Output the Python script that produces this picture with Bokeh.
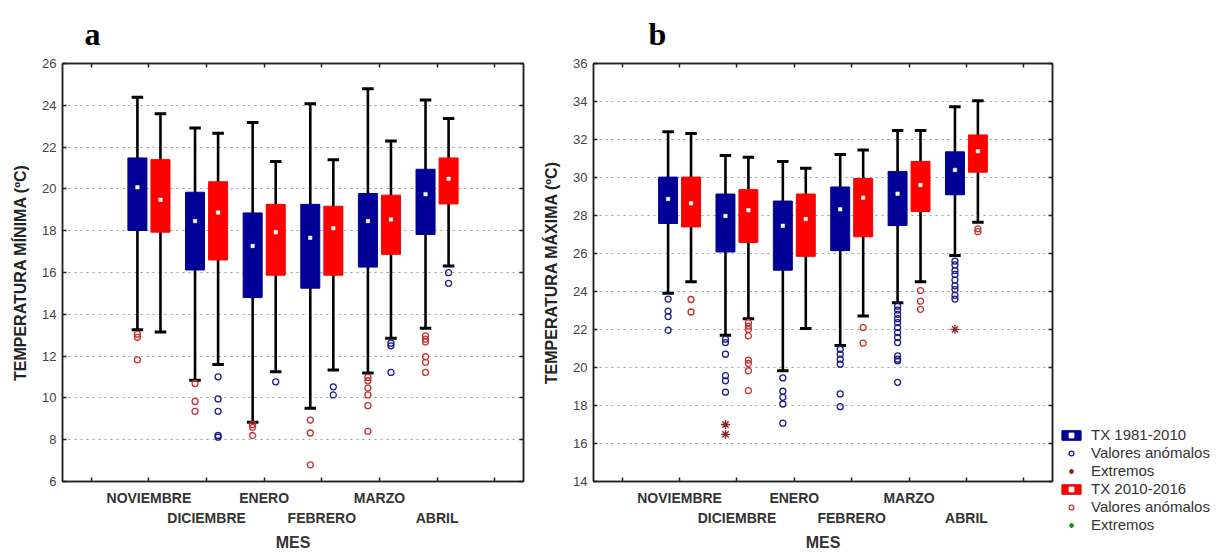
from bokeh.plotting import figure
from bokeh.models import (ColumnDataSource, FixedTicker, LinearAxis, Range1d,
                          Legend, LegendItem)
from bokeh.layouts import row, column
from bokeh.embed import file_html
from bokeh.resources import INLINE

MONTHS = ["NOVIEMBRE", "DICIEMBRE", "ENERO", "FEBRERO", "MARZO", "ABRIL"]
SERIES = ["TX 1981-2010", "TX 2010-2016"]
LEGEND_LABELS = ["Valores anómalos", "Extremos"]
X_TICKS = [0, 1, 2, 3, 4, 5, 6, 7]
A_Y_TICKS = [6, 8, 10, 12, 14, 16, 18, 20, 22, 24, 26]
B_Y_TICKS = [14, 16, 18, 20, 22, 24, 26, 28, 30, 32, 34, 36]

# ---- Panel a: Temperatura minima ----
A1_LOW = [13.26, 10.85, 8.83, 9.50, 11.19, 13.33]
A1_Q1 = [18.01, 16.12, 14.80, 15.25, 16.26, 17.82]
A1_MED = [20.08, 18.46, 17.27, 17.66, 18.46, 19.75]
A1_Q3 = [21.48, 19.84, 18.85, 19.26, 19.78, 20.94]
A1_HIGH = [24.39, 22.91, 23.18, 24.08, 24.79, 24.25]
A1_OUT = [[13.05, 12.90, 11.82], [10.69, 9.83, 9.36], [8.72, 8.59, 8.20],
          [8.94, 8.32, 6.80], [10.98, 10.82, 10.47, 10.14, 9.63, 8.40],
          [12.97, 12.81, 12.68, 11.97, 11.70, 11.22]]

A2_LOW = [13.15, 11.60, 11.25, 11.33, 12.86, 16.31]
A2_Q1 = [17.93, 16.60, 15.87, 15.87, 16.87, 19.28]
A2_MED = [19.48, 18.87, 17.93, 18.12, 18.54, 20.48]
A2_Q3 = [21.40, 20.34, 19.26, 19.17, 19.70, 21.48]
A2_HIGH = [23.60, 22.66, 21.31, 21.39, 22.29, 23.37]
A2_OUT = [[], [11.01, 9.95, 9.36, 8.20, 8.12], [10.77], [10.53, 10.14],
          [12.62, 12.49, 11.22], [15.99, 15.48]]

# ---- Panel b: Temperatura maxima ----
B1_LOW = [23.91, 21.70, 19.83, 21.16, 23.41, 25.90]
B1_Q1 = [27.58, 26.08, 25.12, 26.15, 27.47, 29.09]
B1_MED = [28.87, 27.98, 27.46, 28.33, 29.15, 30.40]
B1_Q3 = [30.02, 29.13, 28.76, 29.50, 30.32, 31.35]
B1_HIGH = [32.41, 31.16, 30.84, 31.21, 32.48, 33.72]
B1_OUT = [[23.60, 22.97, 22.68, 21.96],
          [21.49, 21.31, 20.70, 19.57, 19.30, 18.70],
          [19.45, 18.75, 18.43, 18.08, 17.07],
          [20.96, 20.70, 20.44, 20.17, 18.61, 17.94],
          [23.23, 23.02, 22.80, 22.57, 22.36, 22.10, 21.84, 21.58, 21.31,
           20.61, 20.44, 20.35, 19.22],
          [25.60, 25.40, 25.10, 24.90, 24.60, 24.30, 24.10, 23.80, 23.60]]
B1_EXT = [[], [17.00, 16.48], [], [], [], [22.01]]

B2_LOW = [24.51, 22.57, 22.05, 22.71, 24.51, 27.65]
B2_Q1 = [27.40, 26.58, 25.85, 26.88, 28.21, 30.28]
B2_MED = [28.64, 28.28, 27.81, 28.94, 29.60, 31.38]
B2_Q3 = [30.02, 29.36, 29.13, 29.95, 30.84, 32.24]
B2_HIGH = [32.32, 31.07, 30.49, 31.45, 32.48, 34.04]
B2_OUT = [[23.58, 22.92],
          [22.36, 22.18, 22.00, 21.66, 20.39, 20.21, 19.83, 18.78],
          [], [22.10, 21.28], [24.05, 23.49, 23.06], [27.30, 27.15]]
B2_EXT = [[], [], [], [], [], []]

BLUE = "#000096"
RED = "#FF0000"
OUT_BLUE = "#1C1C8C"
OUT_RED = "#C83232"
EXT_RED = "#8B2323"
EXT_GREEN = "#1E8C1E"
FONT = "Liberation Sans"
OFFSET = 0.2
BOX_W = 0.33
CAP = 0.1
NAN = float("nan")


def add_boxes(p, low, q1, med, q3, high, offset, color):
    xs = [i + 1 + offset for i in range(len(low))]
    src = ColumnDataSource(dict(
        x=xs, low=low, q1=q1, med=med, q3=q3, high=high,
        cl=[x - CAP for x in xs], cr=[x + CAP for x in xs]))
    p.segment(x0="x", y0="low", x1="x", y1="high", source=src,
              line_color="black", line_width=2.6)
    p.segment(x0="cl", y0="high", x1="cr", y1="high", source=src,
              line_color="black", line_width=3)
    p.segment(x0="cl", y0="low", x1="cr", y1="low", source=src,
              line_color="black", line_width=3)
    box = p.vbar(x="x", width=BOX_W, bottom="q1", top="q3", source=src,
                 fill_color=color, line_color=color, line_width=1)
    medr = p.scatter(x="x", y="med", source=src, marker="square", size=3.5,
                     fill_color="white", line_color="white", line_width=0.5)
    return box, medr


def add_points(p, lists, offset, marker, color, size):
    xs, ys = [], []
    for i, vals in enumerate(lists):
        for v in vals:
            xs.append(i + 1 + offset)
            ys.append(v)
    src = ColumnDataSource(dict(x=xs, y=ys))
    return p.scatter(x="x", y="y", source=src, marker=marker, size=size,
                     line_color=color, fill_color=None, line_width=1.3)


def mirror_axis(ticks):
    return LinearAxis(ticker=FixedTicker(ticks=ticks),
                      major_label_overrides={t: "" for t in ticks},
                      major_label_standoff=0,
                      major_tick_in=4, major_tick_out=0,
                      minor_tick_line_color=None, axis_line_color="#222222",
                      axis_line_width=1.5,
                      major_tick_line_color="#222222", major_tick_line_width=1.5)


def style(p, yticks, ylabel, letter, title_offset):
    p.outline_line_color = "#222222"
    p.outline_line_width = 1.5
    p.background_fill_color = "white"
    p.border_fill_color = "white"
    p.xgrid.grid_line_color = None
    p.ygrid.ticker = FixedTicker(ticks=yticks[1:-1])
    p.ygrid.grid_line_color = "#9A9A9A"
    p.ygrid.grid_line_dash = "dotted"
    p.ygrid.grid_line_width = 1

    xa = p.xaxis[0]
    xa.ticker = FixedTicker(ticks=X_TICKS)
    over = {0: "", 7: ""}
    for i, m in enumerate(MONTHS):
        over[i + 1] = m if i % 2 == 0 else "\n" + m
    xa.major_label_overrides = over
    xa.major_label_text_font = FONT
    xa.major_label_text_font_style = "bold"
    xa.major_label_text_font_size = "14px"
    xa.major_label_text_color = "#333333"
    xa.major_label_text_line_height = 1.3
    xa.major_label_standoff = 8
    xa.axis_label = "MES"
    xa.axis_label_text_font = FONT
    xa.axis_label_text_font_style = "bold"
    xa.axis_label_text_font_size = "16px"
    xa.axis_label_text_color = "#333333"
    xa.axis_label_standoff = 5

    ya = p.yaxis[0]
    ya.ticker = FixedTicker(ticks=yticks)
    ya.major_label_text_font = FONT
    ya.major_label_text_font_size = "13px"
    ya.major_label_text_color = "#444444"
    ya.major_label_standoff = 6
    ya.axis_label = ylabel
    ya.axis_label_text_font = FONT
    ya.axis_label_text_font_style = "bold"
    ya.axis_label_text_font_size = "16px"
    ya.axis_label_text_color = "#222222"
    ya.axis_label_standoff = 10

    for ax in (xa, ya):
        ax.major_tick_in = 4
        ax.major_tick_out = 0
        ax.minor_tick_line_color = None
        ax.axis_line_color = "#222222"
        ax.axis_line_width = 1.5
        ax.major_tick_line_color = "#222222"
        ax.major_tick_line_width = 1.5

    p.add_layout(mirror_axis(X_TICKS), "above")
    p.add_layout(mirror_axis(yticks), "right")

    p.title.text = letter
    p.title.text_font = "Liberation Serif"
    p.title.text_font_style = "bold"
    p.title.text_font_size = "32px"
    p.title.text_color = "black"
    p.title.align = "left"
    p.title.offset = title_offset
    p.title.standoff = 24


# ---- figure a ----
pa = figure(width=540, height=554, x_range=Range1d(-0.5, 7.5),
            y_range=Range1d(6, 26), output_backend="svg", toolbar_location=None,
            min_border_left=62, min_border_right=17, min_border_top=62,
            min_border_bottom=73)
add_boxes(pa, A1_LOW, A1_Q1, A1_MED, A1_Q3, A1_HIGH, -OFFSET, BLUE)
add_boxes(pa, A2_LOW, A2_Q1, A2_MED, A2_Q3, A2_HIGH, OFFSET, RED)
add_points(pa, A1_OUT, -OFFSET, "circle", OUT_RED, 6)
add_points(pa, A2_OUT, OFFSET, "circle", OUT_BLUE, 6)
style(pa, A_Y_TICKS, "TEMPERATURA MÍNIMA (ºC)", "a", 22)

# ---- figure b ----
pb = figure(width=521, height=554, x_range=Range1d(-0.5, 7.5),
            y_range=Range1d(14, 36), output_backend="svg", toolbar_location=None,
            min_border_left=50, min_border_right=9, min_border_top=63,
            min_border_bottom=73)
add_boxes(pb, B1_LOW, B1_Q1, B1_MED, B1_Q3, B1_HIGH, -OFFSET, BLUE)
add_boxes(pb, B2_LOW, B2_Q1, B2_MED, B2_Q3, B2_HIGH, OFFSET, RED)
add_points(pb, B1_OUT, -OFFSET, "circle", OUT_BLUE, 6)
add_points(pb, B1_EXT, -OFFSET, "asterisk", EXT_RED, 9)
add_points(pb, B2_OUT, OFFSET, "circle", OUT_RED, 6)
add_points(pb, B2_EXT, OFFSET, "asterisk", EXT_GREEN, 9)
style(pb, B_Y_TICKS, "TEMPERATURA MÁXIMA (ºC)", "b", 55)

# ---- legend panel (key glyphs mirror the styles used in panel b) ----
pl = figure(width=158, height=554, x_range=Range1d(0, 1), y_range=Range1d(0, 1),
            output_backend="svg", toolbar_location=None,
            x_axis_location=None, y_axis_location=None, min_border=0)
pl.grid.visible = False
pl.outline_line_color = None
key = ColumnDataSource(dict(x=[NAN], y=[NAN], b=[NAN], t=[NAN]))
k1_box = pl.vbar(x="x", bottom="b", top="t", width=0.1, source=key,
                 fill_color=BLUE, line_color=BLUE)
k1_med = pl.scatter(x="x", y="y", source=key, marker="square", size=3.5,
                    fill_color="white", line_color="white")
k1_out = pl.scatter(x="x", y="y", source=key, marker="circle", size=6,
                    fill_color=None, line_color=OUT_BLUE, line_width=1.3)
k1_ext = pl.scatter(x="x", y="y", source=key, marker="asterisk", size=10,
                    line_color=EXT_RED, line_width=1.3)
k2_box = pl.vbar(x="x", bottom="b", top="t", width=0.1, source=key,
                 fill_color=RED, line_color=RED)
k2_med = pl.scatter(x="x", y="y", source=key, marker="square", size=3.5,
                    fill_color="white", line_color="white")
k2_out = pl.scatter(x="x", y="y", source=key, marker="circle", size=6,
                    fill_color=None, line_color=OUT_RED, line_width=1.3)
k2_ext = pl.scatter(x="x", y="y", source=key, marker="asterisk", size=10,
                    line_color=EXT_GREEN, line_width=1.3)

legend = Legend(items=[
    LegendItem(label=SERIES[0], renderers=[k1_box, k1_med]),
    LegendItem(label=LEGEND_LABELS[0], renderers=[k1_out]),
    LegendItem(label=LEGEND_LABELS[1], renderers=[k1_ext]),
    LegendItem(label=SERIES[1], renderers=[k2_box, k2_med]),
    LegendItem(label=LEGEND_LABELS[0], renderers=[k2_out]),
    LegendItem(label=LEGEND_LABELS[1], renderers=[k2_ext]),
], location=(-2, 21), orientation="vertical", label_text_font=FONT,
    label_text_font_size="15px", label_text_color="#333333",
    glyph_width=24, glyph_height=12, label_height=14,
    label_standoff=8, spacing=1, padding=0, margin=0,
    border_line_color=None, background_fill_alpha=0)
pl.add_layout(legend, "center")

layout = row(pa, pb, column(pl))
open("out.html", "w").write(file_html(layout, INLINE))
